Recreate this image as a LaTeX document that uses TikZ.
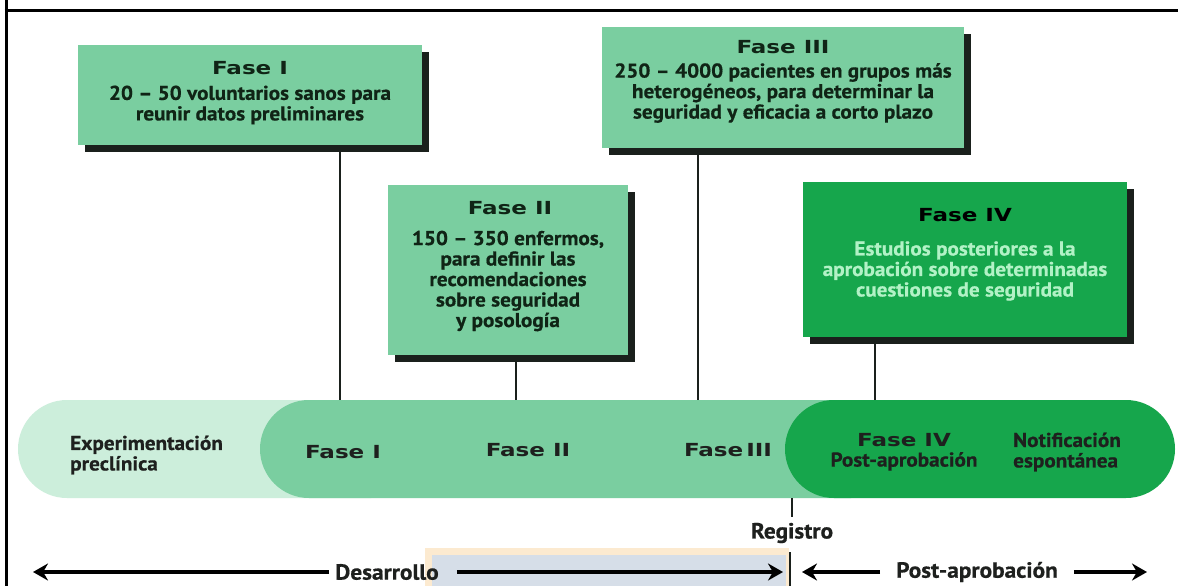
\documentclass[tikz,border=0pt]{standalone}
\usepackage{fontspec}
\setmainfont{PT Sans}[FakeStretch=1.06, FakeBold=0.6]
\newfontfamily\heavyfont{DejaVu Sans}[FakeStretch=1.28]
\usetikzlibrary{shadows,arrows.meta}

\definecolor{boxgreen}{RGB}{122,206,160}
\definecolor{palegreen}{RGB}{204,238,219}
\definecolor{deepgreen}{RGB}{22,166,76}
\definecolor{mint}{RGB}{178,242,198}
\definecolor{inkgreen}{RGB}{16,36,22}
\definecolor{barink}{RGB}{30,32,30}
\definecolor{shadowc}{RGB}{26,32,28}
\definecolor{panelgray}{RGB}{214,222,232}
\definecolor{paleorange}{RGB}{252,234,208}

\newcommand\bodytext{\rmfamily\bfseries\fontsize{20}{20.5}\selectfont}
\newcommand\headtext{\heavyfont\bfseries\fontsize{18}{20}\selectfont}
\newcommand\bigtext{\rmfamily\bfseries\fontsize{22}{24}\selectfont}

\tikzset{
  phasebox/.style={fill=boxgreen, inner sep=0pt,
    general shadow={fill=shadowc, shadow xshift=7pt, shadow yshift=-7pt}},
  heading/.style={font=\headtext, text=inkgreen, inner sep=0pt},
  boxbody/.style={font=\bodytext, text=inkgreen, align=center, inner sep=0pt},
  bartext/.style={font=\bodytext, text=barink, inner sep=0pt},
  barhead/.style={font=\headtext, text=barink, inner sep=0pt},
  bigtext/.style={font=\bigtext, text=barink, inner sep=0pt},
  link/.style={draw=shadowc, line width=2pt},
  pill/.style={rounded corners=49pt},
  span/.style={line width=3.5pt, -{Stealth[length=15pt,width=17pt]}},
  reglink/.style={draw=shadowc, line width=2.2pt}
}

\begin{document}
\begin{tikzpicture}[x=1pt,y=-1pt]
\useasboundingbox (0,0) rectangle (1178,586);
\fill[white] (0,0) rectangle (1178,586);

% outer frame
\draw[line width=3pt] (6,0) -- (6,586);
\draw[line width=3.5pt] (4.5,10.5) -- (1178,10.5);

% points where the phase boxes meet the timeline
\coordinate (tI) at (340,400);
\coordinate (tII) at (516,400);
\coordinate (tIII) at (698,400);
\coordinate (tIV) at (875,400);

% phase boxes
\node[phasebox, minimum width=344pt, minimum height=100pt] (boxI) at (250,95) {};
\node[phasebox, minimum width=240pt, minimum height=170pt] (boxII) at (508,270) {};
\node[phasebox, minimum width=362pt, minimum height=121pt] (boxIII) at (783,87.5) {};
\node[phasebox, fill=deepgreen, minimum width=324pt, minimum height=155pt] (boxIV) at (965,259.5) {};

% connectors from the boxes down to the timeline
\draw[link] (boxI.south -| tI) -- (tI);
\draw[link] (boxII.south -| tII) -- (tII);
\draw[link] (boxIII.south -| tIII) -- (tIII);
\draw[link] (boxIV.south -| tIV) -- (tIV);

% box texts
\node[heading] (hI) at (250,68) {Fase I};
\node[boxbody] (bI) at (250,105) {20 -- 50 voluntarios sanos para\\reunir datos preliminares};

\node[heading] (hII) at (510,208) {Fase II};
\node[boxbody] (bII) at (508,281) {150 -- 350 enfermos,\\para definir las\\recomendaciones\\sobre seguridad\\y posología};

\node[heading] (hIII) at (783,47.5) {Fase III};
\node[boxbody] (bIII) at (783,93) {250 -- 4000 pacientes en grupos más\\heterogéneos, para determinar la\\seguridad y eficacia a corto plazo};

\node[heading, text=black] (hIV) at (965,215.5) {Fase IV};
\node[boxbody, text=mint] (bIV) at (965,271) {Estudios posteriores a la\\aprobación sobre determinadas\\cuestiones de seguridad};

% timeline bands
\fill[palegreen, pill] (18,400) rectangle (420,498);
\fill[boxgreen, pill] (260,400) rectangle (900,498);
\fill[deepgreen, pill] (785,400) rectangle (1175,498);

% timeline labels
\node[bartext, align=left, anchor=west] (pre) at (70,455) {Experimentación\\preclínica};
\node[barhead] (lI) at (343,452.5) {Fase I};
\node[barhead] (lII) at (528,450.5) {Fase II};
\node[barhead] (lIII) at (728,450.5) {Fase\,III};
\node[barhead, align=center] (lIV) at (904,452) {Fase IV\\{\bodytext Post-aprobación}};
\node[bartext, align=left, anchor=west] (notif) at (1013,452) {Notificación\\espontánea};

% approval marker
\node[bigtext] (reg) at (792,533) {Registro};
\coordinate (regtop) at (792,498);
\coordinate (regmid) at (792,517);
\coordinate (reglow) at (790,552);
\coordinate (regend) at (790,586);
\draw[reglink] (regtop) -- (regmid);

% bottom panel behind the development arrow
\fill[paleorange] (425,548) rectangle (789,586);
\fill[panelgray] (432,555) rectangle (786,586);
\draw[reglink] (reglow) -- (regend);

% bottom arrows
\node[bigtext] (dev) at (387,572) {Desarrollo};
\node[bigtext] (post) at (977,572) {Post-aprobación};
\coordinate (devL) at (33,572);
\coordinate (devR) at (783,572);
\coordinate (postL) at (802,572);
\coordinate (postR) at (1147,572);
\draw[span] ([xshift=-6pt]dev.west) -- (devL);
\draw[span] ([xshift=18pt]dev.east) -- (devR);
\draw[span] ([xshift=-16pt]post.west) -- (postL);
\draw[span] ([xshift=16pt]post.east) -- (postR);
\end{tikzpicture}
\end{document}
